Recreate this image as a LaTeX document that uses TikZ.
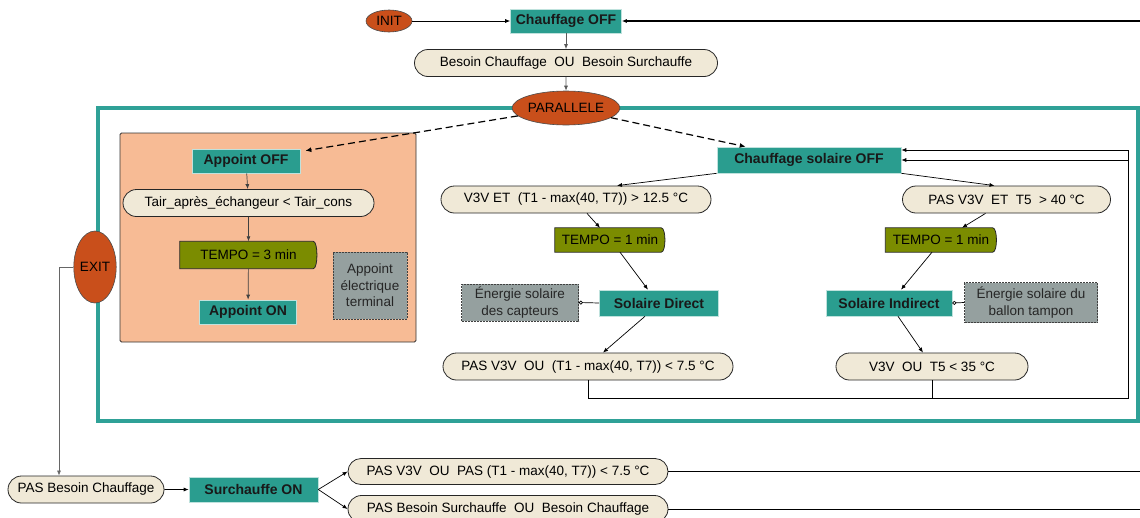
\documentclass[tikz,border=0pt]{standalone}
\usepackage{fontspec}
\setmainfont{Liberation Sans}
\usetikzlibrary{shapes.geometric,shapes.misc,arrows.meta,backgrounds,calc}
\definecolor{tealc}{HTML}{2A9D8F}
\definecolor{framec}{HTML}{2FA197}
\definecolor{ovalc}{HTML}{C94F1B}
\definecolor{apbox}{HTML}{F7BB95}
\definecolor{olivec}{HTML}{7B8C00}
\definecolor{grayc}{HTML}{95A09F}
\definecolor{creamc}{HTML}{F0E9D7}
\tikzset{
 txt/.style={font=\fontsize{13.5}{16.5}\selectfont},
 state/.style={rectangle, fill=tealc, draw=tealc!30, line width=0.6pt, font=\fontsize{14}{16}\selectfont\bfseries, inner sep=0pt, text=black!90},
 cond/.style={rounded rectangle, fill=creamc, draw=black!85, line width=0.8pt, txt, inner sep=0pt},
 oval/.style={ellipse, fill=ovalc, draw=black!70, line width=0.6pt, txt, inner sep=0pt},
 note/.style={rectangle, fill=grayc, draw=black!75, dash pattern=on 2pt off 1pt, line width=0.7pt, txt, align=center, inner sep=0pt, text=black!85},
 tempo/.style={rectangle, txt, inner sep=0pt},
 tempofill/.style={fill=olivec, draw=black!85, line width=0.8pt},
 arr/.style={-{Latex[length=5pt,width=4pt]}, line width=0.7pt},
 ln/.style={line width=0.7pt},
 dasharr/.style={-{Latex[length=6pt,width=5pt]}, line width=1.2pt, dash pattern=on 7pt off 4pt},
 knob/.style={{Circle[open,length=4pt,width=4pt]}-, line width=0.7pt}
}
\begin{document}
\begin{tikzpicture}[x=1pt,y=-1pt]
\useasboundingbox (0,0) rectangle (1140,517);
\begin{scope}[on background layer]
 \draw[framec, line width=4pt] (98,108) rectangle (1138,421);
 \draw[fill=apbox, draw=black!80, line width=0.8pt, rounded corners=1.5pt] (120,133) rectangle (416,342);
\end{scope}

\node[oval, minimum width=46pt, minimum height=22pt] (init) at (389,21) {INIT};
\node[state, minimum width=111pt, minimum height=24pt] (choff) at (566,21) {Chauffage OFF};
\node[cond, minimum width=303pt, minimum height=27pt] (besoin) at (566,63) {Besoin Chauffage~~OU~~Besoin Surchauffe};
\node[oval, minimum width=107pt, minimum height=34pt] (par) at (566,108) {PARALLELE};

\node[state, minimum width=108pt, minimum height=24pt] (apoff) at (246,161) {Appoint OFF};
\node[cond, minimum width=251pt, minimum height=27pt] (tair) at (248.5,203) {Tair\_après\_échangeur < Tair\_cons};
\node[tempo, minimum width=137pt, minimum height=27pt] (t3) at (248.5,255) {TEMPO = 3 min};
\node[state, minimum width=97pt, minimum height=24pt] (apon) at (248,312) {Appoint ON};
\node[note, minimum width=74pt, minimum height=67pt] (apel) at (370,285.5) {Appoint\\électrique\\terminal};
\node[oval, minimum width=36pt, minimum height=72pt] (exit) at (95,267) {EXIT};

\node[state, minimum width=184pt, minimum height=26pt] (csoff) at (809,160) {Chauffage solaire OFF};
\node[cond, minimum width=270pt, minimum height=27pt] (v3vet) at (576,199.5) {V3V ET~~(T1 - max(40, T7)) > 12.5 °C};
\node[tempo, minimum width=110pt, minimum height=24pt] (t1l) at (610,240) {TEMPO = 1 min};
\node[state, minimum width=119pt, minimum height=26pt] (sold) at (659,303) {Solaire Direct};
\node[note, minimum width=117pt, minimum height=37pt] (encap) at (520,302.5) {Énergie solaire\\des capteurs};
\node[cond, minimum width=290pt, minimum height=27pt] (pasv3v) at (588,366.5) {PAS V3V~~OU~~(T1 - max(40, T7)) < 7.5 °C};

\node[cond, minimum width=208pt, minimum height=27pt] (pasv3vt5) at (1006.5,199.5) {PAS V3V~~ET~~T5~~> 40 °C};
\node[tempo, minimum width=111pt, minimum height=24pt] (t1r) at (941,240) {TEMPO = 1 min};
\node[state, minimum width=126pt, minimum height=26pt] (soli) at (889,303) {Solaire Indirect};
\node[note, minimum width=133pt, minimum height=40pt] (enbal) at (1031,302.5) {Énergie solaire du\\ballon tampon};
\node[cond, minimum width=192pt, minimum height=27pt] (v3vt5) at (932,366.5) {V3V~~OU~~T5 < 35 °C};

\node[cond, minimum width=156pt, minimum height=27pt] (pasbc) at (86,489.5) {PAS Besoin Chauffage};
\node[state, minimum width=129pt, minimum height=25pt] (surch) at (253.5,489.5) {Surchauffe ON};
\node[cond, minimum width=320pt, minimum height=26pt] (p1) at (508,471.5) {PAS V3V~~OU~~PAS (T1 - max(40, T7)) < 7.5 °C};
\node[cond, minimum width=320pt, minimum height=27pt] (p2) at (508,509) {PAS Besoin Surchauffe~~OU~~Besoin Chauffage};

\begin{scope}[on background layer]
 \foreach \n in {t3,t1l,t1r}
  \draw[tempofill] (\n.north west) -- ([xshift=-4pt]\n.north east) .. controls ([xshift=1pt]\n.north east) and ([xshift=1pt]\n.south east) .. ([xshift=-4pt]\n.south east) -- (\n.south west) -- cycle;
\end{scope}

% top
\coordinate (rtop) at (1140,21);
\draw[arr] (init) -- (choff);
\draw[arr, line width=1.1pt] (rtop) -- (choff);
\draw[arr, black!65] (choff) -- (besoin);
\draw[arr, black!65] (besoin) -- (par);
\draw[dasharr] (par) -- ([xshift=5pt,yshift=-2pt]apoff.north east);
\draw[dasharr] (par) -- ([xshift=29pt]csoff.north west);

% appoint
\draw[arr, black!75] (apoff) -- (tair);
\draw[arr, black!75] (tair) -- (t3);
\draw[arr, black!75] (t3) -- (apon);

% solaire direct
\draw[arr] (csoff.south west) -- ([xshift=41pt]v3vet.north);
\draw[arr] ([xshift=11pt]v3vet.south) -- ([xshift=-10pt]t1l.north);
\draw[arr] ([xshift=10pt]t1l.south) -- ([xshift=-11pt]sold.north);
\draw[arr] ([xshift=-14pt]sold.south) -- ([xshift=15pt]pasv3v.north);
\draw[knob] (encap.east) -- (sold.west);

% solaire indirect
\draw[arr] (csoff.south east) -- ([xshift=-12pt]pasv3vt5.north);
\draw[arr] ([xshift=-21pt]pasv3vt5.south) -- ([xshift=21pt]t1r.north);
\draw[arr] ([xshift=-9pt]t1r.south) -- ([xshift=12pt]soli.north);
\draw[arr] ([xshift=9pt]soli.south) -- ([xshift=-9pt]v3vt5.north);
\draw[knob] (soli.east) -- (enbal.west);

% loops back
\coordinate (br) at (1128,398);
\draw[arr] (v3vt5.south) |- (br) |- (csoff.east);
\draw[arr] (pasv3v.south) |- (br) |- ([yshift=10pt]csoff.east);

% exit
\coordinate (exitc) at (59,267);
\draw[arr, black!60] (exit.west) -- (exitc) -- (exitc |- pasbc.north);
\draw[arr] (pasbc) -- (surch);
\draw[arr] (surch.east) -- (p1.west);
\draw[arr] (surch.east) -- (p2.west);
\coordinate (r1) at (1140,471.5);
\coordinate (r2) at (1140,509);
\draw[ln] (p1.east) -- (r1);
\draw[ln] (p2.east) -- (r2);
\end{tikzpicture}
\end{document}
